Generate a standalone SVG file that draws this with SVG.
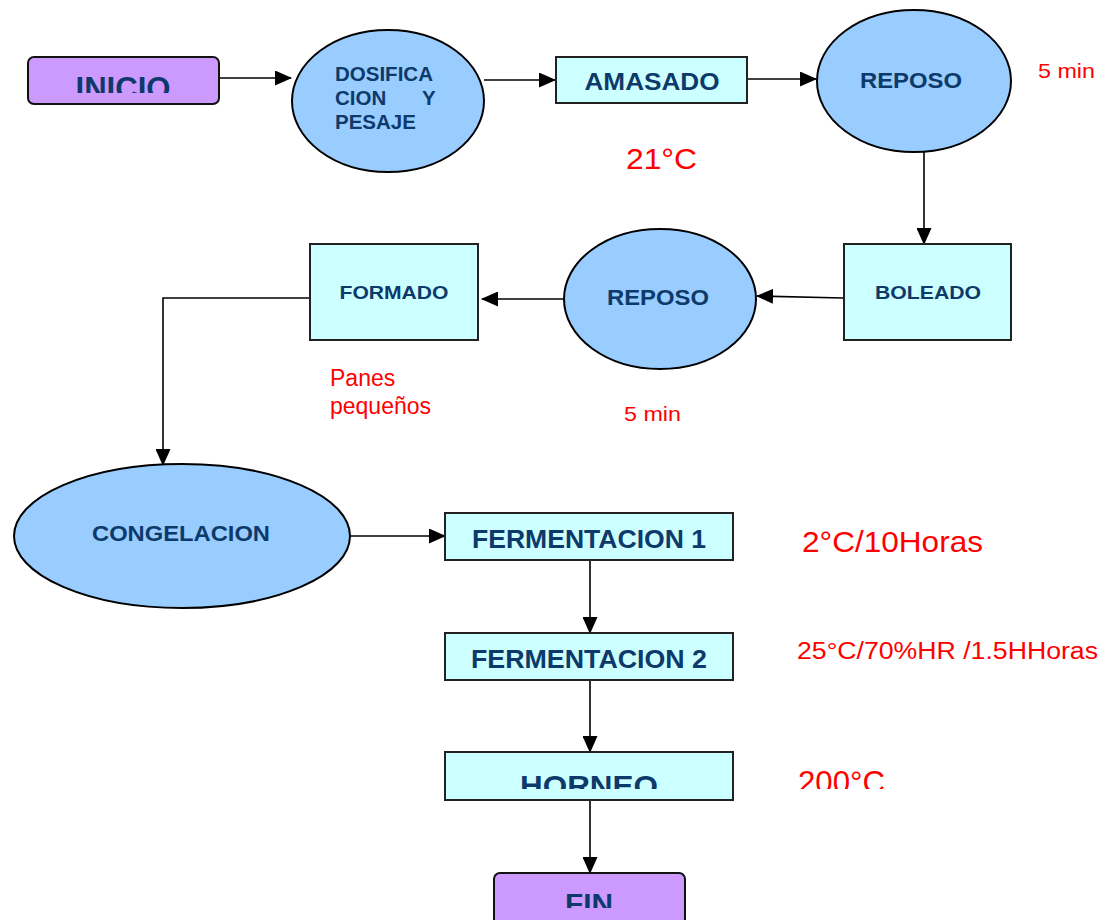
<svg xmlns="http://www.w3.org/2000/svg" width="1117" height="920" viewBox="0 0 1117 920">
  <style>
    .term { fill: #cc99ff; stroke: #111; stroke-width: 2; }
    .oval { fill: #99ccff; stroke: #000; stroke-width: 2; }
    .box { fill: #ccffff; stroke: #222; stroke-width: 2; }
    .lbl { font-family: "Liberation Sans", Arial, sans-serif; font-weight: bold; fill: #0d3a6a; }
    .note { font-family: "Liberation Sans", Arial, sans-serif; fill: #ff0000; }
    .edge { fill: none; stroke: #000; stroke-width: 1.6; }
  </style>
  <defs>
    <marker id="arrow" markerUnits="userSpaceOnUse" markerWidth="17" markerHeight="15" refX="16" refY="7.5" orient="auto">
      <path d="M0,0 L17,7.5 L0,15 Z" fill="#000"/>
    </marker>
    <clipPath id="clipInicio"><rect x="0" y="0" width="1117" height="93"/></clipPath>
    <clipPath id="clipHorneo"><rect x="0" y="0" width="1117" height="789"/></clipPath>
    <clipPath id="clipFin"><rect x="0" y="0" width="1117" height="908"/></clipPath>
  </defs>

  <rect width="1117" height="920" fill="#ffffff"/>

  <!-- connectors -->
  <g id="connectors">
    <line class="edge" x1="219" y1="78" x2="291" y2="78" marker-end="url(#arrow)"/>
    <line class="edge" x1="484" y1="80" x2="555" y2="80" marker-end="url(#arrow)"/>
    <line class="edge" x1="748" y1="79" x2="816" y2="79" marker-end="url(#arrow)"/>
    <line class="edge" x1="924" y1="152" x2="924" y2="244" marker-end="url(#arrow)"/>
    <line class="edge" x1="843" y1="298" x2="757" y2="296" marker-end="url(#arrow)"/>
    <line class="edge" x1="564" y1="299" x2="482" y2="299" marker-end="url(#arrow)"/>
    <polyline class="edge" points="310,298 163,298 163,465" marker-end="url(#arrow)"/>
    <line class="edge" x1="350" y1="536" x2="445" y2="536" marker-end="url(#arrow)"/>
    <line class="edge" x1="590" y1="560" x2="590" y2="633" marker-end="url(#arrow)"/>
    <line class="edge" x1="590" y1="680" x2="590" y2="752" marker-end="url(#arrow)"/>
    <line class="edge" x1="590" y1="800" x2="590" y2="873" marker-end="url(#arrow)"/>
  </g>

  <g id="inicio">
    <rect class="term" x="28" y="57" width="191" height="47" rx="6"/>
    <text class="lbl" x="123" y="99" font-size="31" text-anchor="middle" textLength="95" lengthAdjust="spacingAndGlyphs" clip-path="url(#clipInicio)">INICIO</text>
  </g>

  <g id="dosificacion">
    <ellipse class="oval" cx="388" cy="101" rx="96" ry="71"/>
    <text class="lbl" font-size="20.5">
      <tspan x="335" y="81">DOSIFICA</tspan>
      <tspan x="335" y="105">CION</tspan>
      <tspan x="422" y="105">Y</tspan>
      <tspan x="335" y="129">PESAJE</tspan>
    </text>
  </g>

  <g id="amasado">
    <rect class="box" x="556" y="57" width="191" height="46"/>
    <text class="lbl" x="652" y="90" font-size="24" text-anchor="middle" textLength="135" lengthAdjust="spacingAndGlyphs">AMASADO</text>
  </g>
  <text class="note" x="626" y="169" font-size="30" textLength="71" lengthAdjust="spacingAndGlyphs">21°C</text>

  <g id="reposo1">
    <ellipse class="oval" cx="914" cy="81" rx="97" ry="71"/>
    <text class="lbl" x="911" y="88" font-size="22" text-anchor="middle" textLength="102" lengthAdjust="spacingAndGlyphs">REPOSO</text>
  </g>
  <text class="note" x="1038" y="78" font-size="21" textLength="57" lengthAdjust="spacingAndGlyphs">5 min</text>

  <g id="boleado">
    <rect class="box" x="844" y="244" width="167" height="96"/>
    <text class="lbl" x="928" y="299" font-size="19" text-anchor="middle" textLength="106" lengthAdjust="spacingAndGlyphs">BOLEADO</text>
  </g>

  <g id="reposo2">
    <ellipse class="oval" cx="660" cy="299" rx="96" ry="70"/>
    <text class="lbl" x="658" y="305" font-size="22" text-anchor="middle" textLength="102" lengthAdjust="spacingAndGlyphs">REPOSO</text>
  </g>
  <text class="note" x="624" y="421" font-size="21" textLength="57" lengthAdjust="spacingAndGlyphs">5 min</text>

  <g id="formado">
    <rect class="box" x="310" y="244" width="168" height="96"/>
    <text class="lbl" x="394" y="299" font-size="19" text-anchor="middle" textLength="109" lengthAdjust="spacingAndGlyphs">FORMADO</text>
  </g>
  <text class="note" font-size="23">
    <tspan x="330" y="386">Panes</tspan>
    <tspan x="330" y="414">pequeños</tspan>
  </text>

  <g id="congelacion">
    <ellipse class="oval" cx="182" cy="536" rx="168" ry="72"/>
    <text class="lbl" x="181" y="541" font-size="22" text-anchor="middle" textLength="178" lengthAdjust="spacingAndGlyphs">CONGELACION</text>
  </g>

  <g id="fermentacion1">
    <rect class="box" x="445" y="513" width="288" height="47"/>
    <text class="lbl" x="589" y="548" font-size="25" text-anchor="middle" textLength="234" lengthAdjust="spacingAndGlyphs">FERMENTACION 1</text>
  </g>
  <text class="note" x="802" y="552" font-size="29" textLength="181" lengthAdjust="spacingAndGlyphs">2°C/10Horas</text>

  <g id="fermentacion2">
    <rect class="box" x="445" y="633" width="288" height="47"/>
    <text class="lbl" x="589" y="668" font-size="25" text-anchor="middle" textLength="236" lengthAdjust="spacingAndGlyphs">FERMENTACION 2</text>
  </g>
  <text class="note" x="797" y="659" font-size="23" textLength="301" lengthAdjust="spacingAndGlyphs">25°C/70%HR /1.5HHoras</text>

  <g id="horneo">
    <rect class="box" x="445" y="752" width="288" height="48"/>
    <text class="lbl" x="589" y="796" font-size="30" text-anchor="middle" textLength="138" lengthAdjust="spacingAndGlyphs" clip-path="url(#clipHorneo)">HORNEO</text>
  </g>
  <text class="note" x="798" y="793" font-size="31" textLength="87" lengthAdjust="spacingAndGlyphs" clip-path="url(#clipHorneo)">200°C</text>

  <g id="fin">
    <rect class="term" x="494" y="873" width="191" height="52" rx="6"/>
    <text class="lbl" x="589" y="913" font-size="28" text-anchor="middle" textLength="48" lengthAdjust="spacingAndGlyphs" clip-path="url(#clipFin)">FIN</text>
  </g>
</svg>
